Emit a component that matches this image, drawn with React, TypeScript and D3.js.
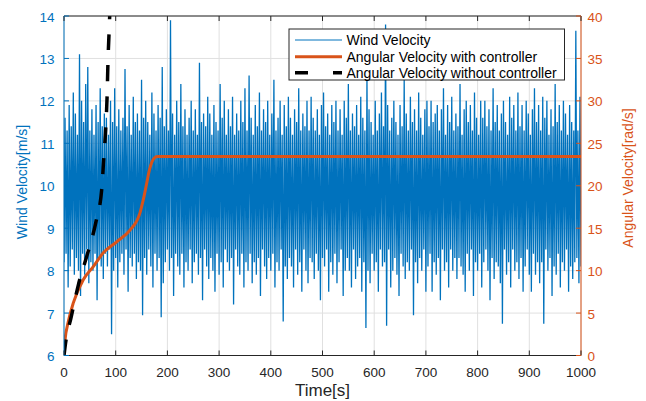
import React from 'react';
import * as d3 from 'd3';

const windValues: number[] = [
  8.2, 11.6, 8.4, 11.3, 7.6, 11.9, 8.1, 11.4, 8.5, 12.2, 7.9, 11.7, 8.3, 11.2, 8.0, 13.1, 7.4, 12.0, 8.4, 11.5,
  7.9, 12.4, 8.5, 12.8, 7.7, 11.3, 8.2, 11.8, 8.0, 11.2, 8.4, 11.9, 7.3, 11.5, 8.3, 12.3, 8.1, 11.4, 7.8, 11.7,
  8.4, 11.6, 8.1, 11.2, 8.5, 12.0, 6.5, 11.5, 8.0, 12.3, 8.3, 11.4, 7.6, 11.8, 8.2, 11.3, 8.4, 11.6, 7.9, 12.75,
  8.5, 11.4, 7.5, 11.9, 8.3, 11.2, 8.1, 12.1, 8.4, 11.5, 7.8, 11.7, 8.2, 11.3, 8.0, 12.5, 6.95, 11.6, 8.3, 12.0,
  7.9, 11.5, 8.5, 11.2, 8.1, 12.2, 7.6, 11.7, 8.4, 11.3, 8.0, 11.9, 8.3, 11.6, 6.9, 12.8, 7.7, 11.4, 8.2, 11.8,
  8.5, 11.3, 8.0, 13.9, 8.3, 11.7, 7.4, 11.2, 8.4, 12.0, 8.1, 11.5, 7.9, 12.4, 8.4, 11.4, 7.6, 11.8, 8.2, 11.2,
  8.0, 11.6, 8.5, 12.0, 7.7, 11.3, 8.2, 11.8, 8.4, 11.2, 7.9, 12.9, 8.3, 11.5, 7.3, 11.7, 8.5, 11.4, 8.1, 12.1,
  7.8, 11.7, 8.3, 11.2, 8.0, 11.9, 7.5, 11.5, 8.4, 11.3, 7.9, 12.4, 8.2, 11.6, 7.6, 12.0, 8.5, 11.2, 8.2, 11.8,
  8.0, 11.4, 8.3, 12.1, 7.2, 11.2, 8.5, 11.7, 8.1, 11.3, 7.9, 12.0, 8.4, 11.5, 7.6, 12.3, 8.2, 11.3, 8.0, 12.6,
  8.4, 11.6, 7.7, 11.2, 8.2, 11.9, 7.9, 11.4, 8.3, 12.2, 7.4, 11.3, 8.5, 11.8, 8.1, 11.5, 7.8, 12.0, 8.3, 11.2,
  8.0, 11.7, 8.4, 12.5, 7.6, 11.3, 8.2, 11.6, 8.0, 12.0, 8.5, 11.2, 6.8, 11.9, 8.1, 11.4, 7.8, 12.1, 8.3, 11.6,
  8.1, 11.2, 7.6, 11.8, 8.5, 11.5, 7.9, 12.3, 8.2, 11.3, 7.5, 11.7, 8.5, 11.4, 8.0, 12.0, 7.7, 11.3, 8.3, 12.1,
  8.2, 11.6, 7.8, 11.3, 8.4, 11.8, 8.0, 11.2, 7.3, 11.9, 8.3, 12.2, 8.1, 11.4, 8.5, 11.7, 7.5, 11.2, 8.2, 11.9,
  7.9, 11.5, 8.4, 12.0, 7.7, 11.3, 8.2, 11.8, 8.5, 11.2, 7.4, 12.0, 8.0, 11.6, 8.3, 12.4, 8.0, 11.3, 7.6, 11.7,
  8.5, 11.4, 7.8, 11.9, 8.1, 11.2, 8.3, 12.1, 7.5, 11.6, 8.2, 11.3, 6.65, 12.6, 8.0, 11.8, 7.7, 11.5, 8.4, 11.2,
  8.0, 12.0, 8.2, 11.3, 7.5, 11.7, 8.5, 12.2, 8.1, 11.4, 8.2, 13.8, 6.7, 11.9, 8.5, 11.3, 7.6, 11.6, 8.0, 12.0,
  8.3, 11.5, 7.9, 11.2, 7.4, 11.9, 8.4, 11.4, 8.1, 12.5, 7.8, 11.7, 8.2, 11.3, 8.0, 12.1, 8.5, 11.5, 6.95, 11.8,
  8.2, 11.3, 7.7, 12.2, 8.3, 11.6, 8.0, 11.2, 8.5, 11.8, 7.5, 12.0, 8.1, 11.4, 8.4, 12.0, 7.5, 11.5, 8.2, 11.7,
  7.9, 11.9, 8.3, 11.3, 7.3, 11.8, 8.5, 12.3, 8.0, 11.2, 8.2, 11.9, 7.6, 11.5, 8.5, 12.1, 8.0, 11.3, 8.3, 11.7,
  7.8, 11.4, 8.3, 12.4, 8.1, 11.2, 7.9, 11.8, 7.5, 12.0, 8.4, 11.5, 8.0, 11.9, 8.5, 11.3, 7.4, 12.2, 8.2, 11.6,
  8.0, 11.2, 8.4, 12.0, 7.6, 11.6, 8.2, 12.0, 8.5, 11.4, 8.0, 11.8, 7.3, 11.3, 8.3, 12.3, 7.8, 11.5, 8.2, 11.9,
  8.1, 11.3, 7.7, 11.7, 6.75, 12.0, 8.5, 11.5, 7.9, 11.2, 8.2, 12.1, 7.6, 11.6, 8.5, 11.9, 8.0, 11.3, 8.2, 12.2,
  7.8, 11.4, 8.3, 11.9, 7.5, 11.3, 8.1, 12.0, 8.5, 11.7, 7.9, 11.2, 7.5, 11.8, 8.4, 12.3, 7.9, 11.5, 8.2, 11.9,
  7.7, 11.3, 8.2, 12.1, 6.75, 11.6, 8.5, 12.0, 8.0, 11.2, 8.3, 11.8, 7.4, 11.4, 8.1, 12.4, 7.9, 11.5, 8.4, 11.9,
  7.6, 11.3, 8.2, 12.0, 8.0, 11.7, 8.5, 11.2, 7.5, 11.9, 8.1, 11.5, 7.8, 11.3, 8.2, 13.65, 8.3, 11.3, 7.7, 12.1,
  8.1,
];
const windStep = 2; // seconds between wind samples

const ctrlTime: number[] = [0, 2, 8, 18, 37, 57, 76, 102, 128, 147, 150, 155, 160, 165, 170, 175, 180, 1000];
const ctrlOmega: number[] = [0.4, 1.85, 3.9, 6.2, 8.9, 10.5, 12.1, 13.4, 14.8, 16.8, 17.5, 18.8, 20.3, 21.8, 22.8, 23.3, 23.44, 23.44];

const noCtrlTime: number[] = [0, 2, 14.5, 27.7, 45.5, 62, 73, 77, 81, 83.5, 85, 87.4, 89];
const noCtrlOmega: number[] = [0, 1.0, 4.7, 8.3, 12.0, 15.8, 19.6, 23.3, 27.1, 30.8, 34.5, 38.4, 41];

const xTicks: number[] = [0, 100, 200, 300, 400, 500, 600, 700, 800, 900, 1000];
const leftTicks: number[] = [6, 7, 8, 9, 10, 11, 12, 13, 14];
const rightTicks: number[] = [0, 5, 10, 15, 20, 25, 30, 35, 40];
const legendLabels: string[] = ['Wind Velocity', 'Angular Velocity with controller', 'Angular Velocity without controller'];

const BLUE = '#0072BD';
const ORANGE = '#D95319';
const DARK = '#262626';
const FONT = '"Liberation Sans", Arial, Helvetica, sans-serif';

export default function App() {
  const W = 646, H = 401;
  const L = 64, R = 581, T = 16, B = 355.5;
  const x = d3.scaleLinear().domain([0, 1000]).range([L, R]);
  const yL = d3.scaleLinear().domain([6, 14]).range([B, T]);
  const yR = d3.scaleLinear().domain([0, 40]).range([B, T]);

  const windLine = d3.line<number>().x((_, i) => x(i * windStep)).y(d => yL(d));
  const ctrlLine = d3.line<number>().x((_, i) => x(ctrlTime[i])).y(d => yR(d)).curve(d3.curveMonotoneX);
  const noCtrlLine = d3.line<number>().x((_, i) => x(noCtrlTime[i])).y(d => yR(d)).curve(d3.curveMonotoneX);

  const tickLen = 5;
  const legX = 289, legY = 29, legW = 275.5, legH = 51;
  const legRows = [40, 56.7, 72.7];

  return (
    <svg width={W} height={H} style={{ position: 'absolute', left: 0, top: 0, background: '#fff' }} fontFamily={FONT}>
      <defs>
        <clipPath id="plotClip">
          <rect x={L} y={T} width={R - L} height={B - T} />
        </clipPath>
      </defs>
      <rect x={0} y={0} width={W} height={H} fill="#fff" />
      {/* grid */}
      <g stroke="#e0e0e0" strokeWidth={1}>
        {xTicks.map(t => (
          <line key={'gx' + t} x1={x(t)} x2={x(t)} y1={T} y2={B} />
        ))}
        {leftTicks.map(t => (
          <line key={'gy' + t} x1={L} x2={R} y1={yL(t)} y2={yL(t)} />
        ))}
      </g>
      {/* data */}
      <g clipPath="url(#plotClip)">
        <path d={windLine(windValues) || ''} fill="none" stroke={BLUE} strokeWidth={1.3} strokeLinejoin="miter" strokeMiterlimit={2} />
        <path d={ctrlLine(ctrlOmega) || ''} fill="none" stroke={ORANGE} strokeWidth={3} />
        <path d={noCtrlLine(noCtrlOmega) || ''} fill="none" stroke="#000" strokeWidth={3.5} strokeDasharray="16 15" />
      </g>
      {/* box */}
      <line x1={L} x2={R} y1={T} y2={T} stroke={DARK} strokeWidth={1} />
      <line x1={L} x2={R} y1={B} y2={B} stroke={DARK} strokeWidth={1} />
      <line x1={L} x2={L} y1={T} y2={B} stroke={BLUE} strokeWidth={1} />
      <line x1={R} x2={R} y1={T} y2={B} stroke={ORANGE} strokeWidth={1} />
      {/* x ticks */}
      <g stroke={DARK} strokeWidth={1}>
        {xTicks.map(t => (
          <g key={'xt' + t}>
            <line x1={x(t)} x2={x(t)} y1={B} y2={B - tickLen} />
            <line x1={x(t)} x2={x(t)} y1={T} y2={T + tickLen} />
          </g>
        ))}
      </g>
      {xTicks.map(t => (
        <text key={'xl' + t} x={x(t)} y={376.5} textAnchor="middle" fontSize={13.5} fill={DARK}>{t}</text>
      ))}
      {/* left ticks */}
      {leftTicks.map(t => (
        <g key={'lt' + t}>
          <line x1={L} x2={L + tickLen} y1={yL(t)} y2={yL(t)} stroke={BLUE} />
          <text x={54.5} y={yL(t) + 5.5} textAnchor="end" fontSize={13.5} fill={BLUE}>{t}</text>
        </g>
      ))}
      {/* right ticks */}
      {rightTicks.map(t => (
        <g key={'rt' + t}>
          <line x1={R} x2={R - tickLen} y1={yR(t)} y2={yR(t)} stroke={ORANGE} />
          <text x={587.5} y={yR(t) + 5.5} textAnchor="start" fontSize={13.5} fill={ORANGE}>{t}</text>
        </g>
      ))}
      {/* axis labels */}
      <text x={(L + R) / 2} y={396} textAnchor="middle" fontSize={17} fill={DARK}>Time[s]</text>
      <text transform={`translate(27,182) rotate(-90)`} textAnchor="middle" fontSize={14} fill={BLUE}>Wind Velocity[m/s]</text>
      <text transform={`translate(632.5,178) rotate(-90)`} textAnchor="middle" fontSize={14} fill={ORANGE}>Angular Velocity[rad/s]</text>
      {/* legend */}
      <rect x={legX} y={legY} width={legW} height={legH} fill="#fff" stroke={DARK} strokeWidth={1} />
      <line x1={295} x2={342} y1={legRows[0]} y2={legRows[0]} stroke={BLUE} strokeWidth={1} />
      <line x1={295} x2={342} y1={legRows[1]} y2={legRows[1]} stroke={ORANGE} strokeWidth={3} />
      <line x1={295} x2={342} y1={legRows[2]} y2={legRows[2]} stroke="#000" strokeWidth={3.5} strokeDasharray="13 25" />
      {legendLabels.map((s, i) => (
        <text key={s} x={346.5} y={legRows[i] + 5} fontSize={14} fill="#000">{s}</text>
      ))}
    </svg>
  );
}
